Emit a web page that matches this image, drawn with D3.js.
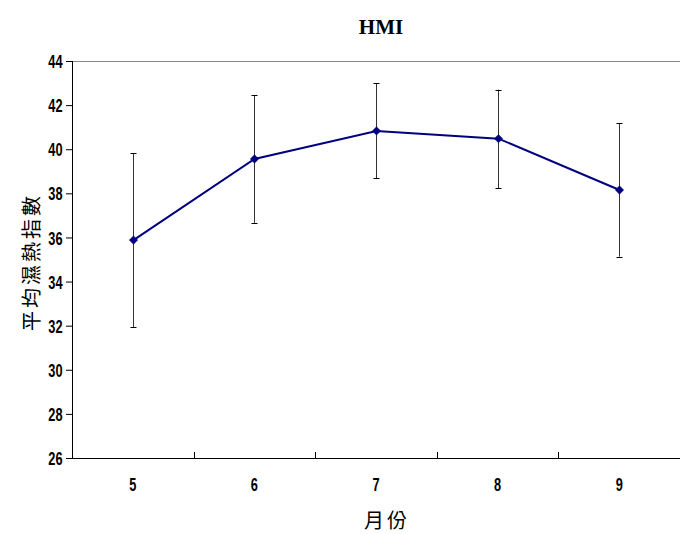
<!DOCTYPE html>
<html><head><meta charset="utf-8">
<script src="https://cdn.jsdelivr.net/npm/d3@7"></script>
<style>body{margin:0;background:#fff}svg{display:block}</style>
</head><body>
<svg id="c" width="680" height="534"></svg>
<script>
const months = ["5","6","7","8","9"];
const meanValues = [35.88, 39.56, 40.83, 40.48, 38.15];
const upperValues = [39.83, 42.46, 42.99, 42.70, 41.18];
const lowerValues = [31.94, 36.66, 38.68, 38.23, 35.13];
const yTicks = [26,28,30,32,34,36,38,40,42,44];

const svg = d3.select("#c");
const m = {l:72, r:680, t:61, b:458};
const x = d3.scaleBand().domain(months).range([m.l, m.r]);
const y = d3.scaleLinear().domain([26,44]).range([m.b, m.t]);
const data = months.map((k,i)=>({k, v:meanValues[i], hi:upperValues[i], lo:lowerValues[i]}));
const cx = d => x(d.k) + x.bandwidth()/2;
const tickFont = "'Liberation Sans','Arial',sans-serif";

// top border
svg.append("line").attr("x1",m.l).attr("x2",m.r).attr("y1",m.t+0.5).attr("y2",m.t+0.5).attr("stroke","#888").attr("stroke-width",1);

// y axis
const ya = svg.append("g").attr("transform",`translate(${m.l},0)`)
  .call(d3.axisLeft(y).tickValues(yTicks).tickSize(6).tickPadding(4).tickFormat(d3.format("d")));
ya.select(".domain").attr("stroke","#000").attr("d",`M0.5,${m.t}V${m.b+0.5}`);
ya.selectAll("line").attr("stroke","#000");
ya.selectAll("text").attr("font-family",tickFont).attr("font-weight","bold").attr("font-size",16)
  .attr("fill","#000").attr("x",0).attr("dy","0.36em")
  .attr("transform","translate(-9.5,0) scale(0.8,1.15)");

// x axis
const xa = svg.append("g").attr("transform",`translate(0,${m.b})`)
  .call(d3.axisBottom(x).tickSize(0).tickPadding(0));
xa.select(".domain").attr("stroke","#000").attr("d",`M${m.l},0.5H${m.r}`);
xa.selectAll("text").attr("font-family",tickFont).attr("font-weight","bold").attr("font-size",16)
  .attr("fill","#000").attr("y",0).attr("dy","0").attr("transform","translate(0,33) scale(0.8,1.15)");
// inner ticks at band boundaries
const bounds = months.slice(1).map(k=>x(k));
svg.append("g").selectAll("line").data(bounds).join("line")
  .attr("x1",d=>Math.round(d)+0.5).attr("x2",d=>Math.round(d)+0.5)
  .attr("y1",m.b-6).attr("y2",m.b).attr("stroke","#000");

// error bars
const eb = svg.append("g").attr("stroke","#333").attr("stroke-width",1);
eb.selectAll("line.v").data(data).join("line").attr("class","v")
  .attr("x1",d=>Math.round(cx(d))+0.5).attr("x2",d=>Math.round(cx(d))+0.5)
  .attr("y1",d=>y(d.hi)).attr("y2",d=>y(d.lo));
eb.selectAll("line.h").data(data).join("line").attr("class","h")
  .attr("x1",d=>Math.round(cx(d))-2.5).attr("x2",d=>Math.round(cx(d))+3.5)
  .attr("y1",d=>Math.round(y(d.hi))+0.5).attr("y2",d=>Math.round(y(d.hi))+0.5).attr("stroke","#000");
eb.selectAll("line.l").data(data).join("line").attr("class","l")
  .attr("x1",d=>Math.round(cx(d))-2.5).attr("x2",d=>Math.round(cx(d))+3.5)
  .attr("y1",d=>Math.round(y(d.lo))+0.5).attr("y2",d=>Math.round(y(d.lo))+0.5).attr("stroke","#000");

// line
svg.append("path").datum(data)
  .attr("d", d3.line().x(d=>Math.round(cx(d))+0.5).y(d=>y(d.v)))
  .attr("fill","none").attr("stroke","#000080").attr("stroke-width",2);
// markers
svg.append("g").selectAll("path").data(data).join("path")
  .attr("transform",d=>`translate(${Math.round(cx(d))+0.5},${y(d.v)})`)
  .attr("d", d3.symbol(d3.symbolDiamond2, 45))
  .attr("fill","#000080").attr("stroke","#000080").attr("stroke-width",0.5);

// title
svg.append("text").attr("x",381).attr("y",34).attr("text-anchor","middle")
  .attr("font-family","'Liberation Serif','Times New Roman',serif").attr("font-weight","bold")
  .attr("font-size",21).text("HMI");
// x label
svg.append("text").attr("x",387).attr("y",528).attr("text-anchor","middle")
  .attr("font-family","'Noto Sans CJK TC',sans-serif").attr("font-size",20).attr("letter-spacing",3).text("月份");
// y label
svg.append("text").attr("transform",`translate(39,262) rotate(-90)`).attr("text-anchor","middle")
  .attr("font-family","'Noto Sans CJK TC',sans-serif").attr("font-size",20).attr("letter-spacing",3).text("平均濕熱指數");
</script>
</body></html>
